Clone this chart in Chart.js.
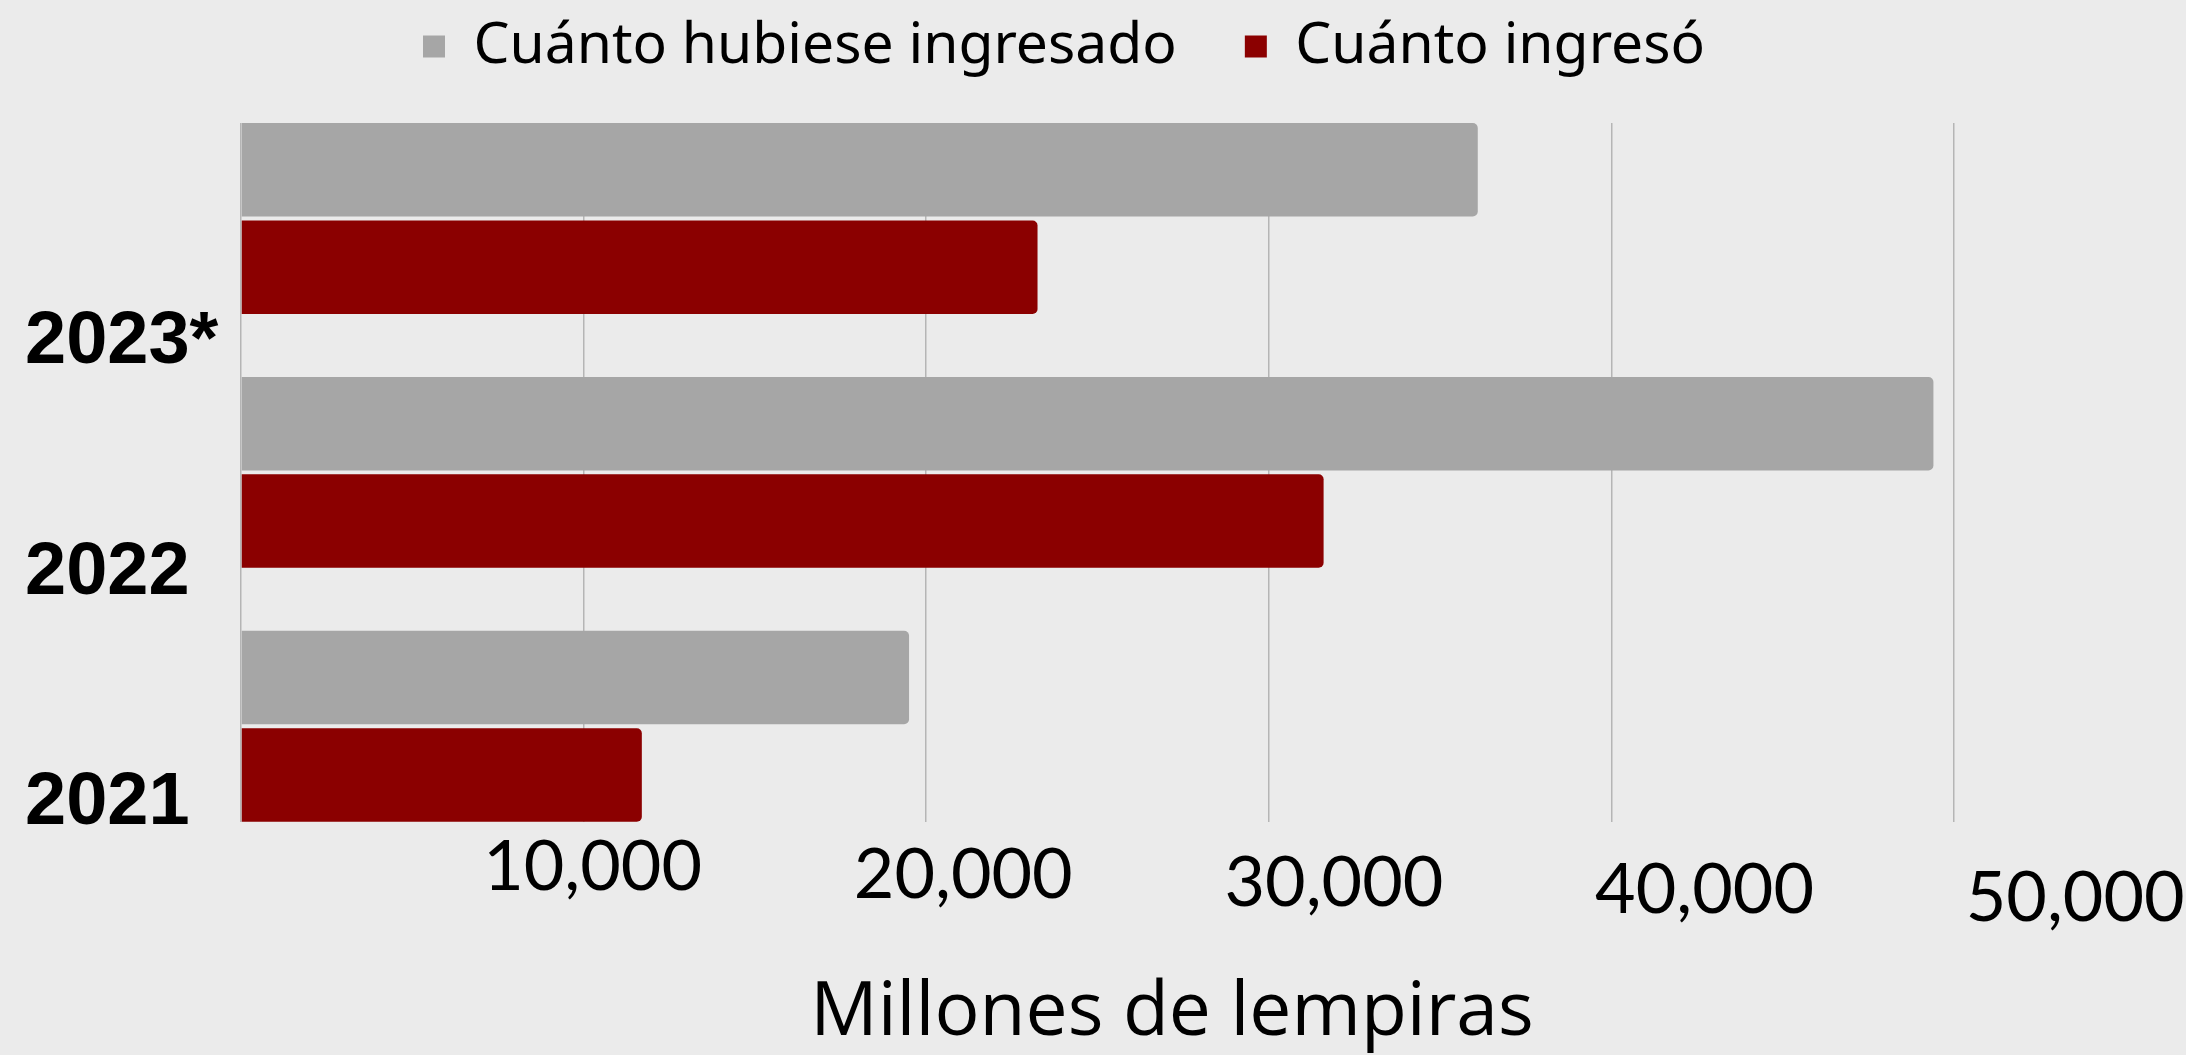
<!DOCTYPE html>
<html lang="es">
<head>
<meta charset="utf-8">
<title>Ingresos</title>
<script src="https://cdn.jsdelivr.net/npm/chart.js@4.4.1/dist/chart.umd.min.js"></script>
<style>
  html, body { margin: 0; padding: 0; background: #ebebeb; }
  #wrap { width: 2186px; height: 1055px; position: relative; }
</style>
</head>
<body>
<div id="wrap"><canvas id="barChart"></canvas></div>
<script>
// data (millones de lempiras)
const years = [2023, 2022, 2021];
const yearLabels = ['2023*', '2022', '2021'];
const hubieseIngresado = [36100, 49400, 19500];
const ingreso = [23250, 31600, 11700];
const gridValues = [0, 10000, 20000, 30000, 40000, 50000];
const xTickValues = [10000, 20000, 30000, 40000, 50000];
const xTickLabels = ['10,000', '20,000', '30,000', '40,000', '50,000'];

// pushes the plot area a bit further away from the legend
const legendMargin = {
  id: 'legendMargin',
  beforeInit(chart) {
    const origFit = chart.legend.fit;
    chart.legend.fit = function fit() {
      origFit.bind(chart.legend)();
      this.height += 38;
    };
  },
};

function createChart(ctx) {
  new Chart(ctx, {
    type: 'bar',
    data: {
      labels: years,
      datasets: [
        {
          label: 'Cuánto hubiese ingresado',
          data: hubieseIngresado,
          backgroundColor: '#a6a6a6',
          borderRadius: 5,
          categoryPercentage: 0.767,
          barPercentage: 0.96,
          xAxisID: 'x',
          yAxisID: 'y',
        },
        {
          label: 'Cuánto ingresó',
          data: ingreso,
          backgroundColor: '#8b0000',
          borderRadius: 5,
          categoryPercentage: 0.767,
          barPercentage: 0.96,
          xAxisID: 'x',
          yAxisID: 'y',
        },
      ],
    },
    options: {
      indexAxis: 'y',
      responsive: true,
      maintainAspectRatio: false,
      animation: false,
      layout: {
        padding: { top: -50, left: 25, right: 83, bottom: 2 },
      },
      scales: {
        x: {
          type: 'linear',
          min: 0,
          max: 54350,
          afterBuildTicks: (scale) => {
            scale.ticks = gridValues.map((v) => ({ value: v }));
          },
          grid: { color: '#b5b5b5', lineWidth: 1.5, drawTicks: false },
          border: { display: false },
          ticks: { display: false },
        },
        y: {
          type: 'linear',
          display: false,
          offset: false,
          min: 2020.623,
          max: 2023.376,
          afterBuildTicks: (scale) => {
            scale.ticks = years.map((v) => ({ value: v }));
          },
        },
        x2: {
          type: 'linear',
          position: 'bottom',
          min: 514,
          max: 50750,
          afterBuildTicks: (scale) => {
            scale.ticks = xTickValues.map((v) => ({ value: v }));
          },
          afterFit: (scale) => {
            scale.paddingLeft = 0;
            scale.paddingRight = 0;
          },
          grid: { display: false, drawTicks: false },
          border: { display: false },
          ticks: {
            color: '#000',
            padding: 10.5,
            autoSkip: false,
            maxRotation: 0,
            font: (c) => ({
              family: 'Lato',
              size: 70,
              lineHeight: 70 + 15.5 * c.index + 'px',
            }),
            callback: (value, index) => xTickLabels[index],
          },
          title: {
            display: true,
            text: 'Millones de lempiras',
            color: '#000',
            font: { family: 'Open Sans', size: 75, lineHeight: 1 },
            padding: { top: 1, bottom: 2 },
          },
        },
        y2: {
          type: 'linear',
          position: 'left',
          offset: false,
          min: 2020.92,
          max: 2023.953,
          afterBuildTicks: (scale) => {
            scale.ticks = years.map((v) => ({ value: v }));
          },
          afterFit: (scale) => {
            scale.width = 216;
          },
          grid: { display: false, drawTicks: false },
          border: { display: false },
          ticks: {
            crossAlign: 'far',
            color: '#000',
            autoSkip: false,
            font: { family: 'Liberation Sans', size: 74, weight: 'bold' },
            callback: (value) => yearLabels[years.indexOf(value)],
          },
        },
      },
      plugins: {
        legend: {
          position: 'top',
          labels: {
            color: '#000',
            font: { family: 'Noto Sans', size: 57 },
            boxWidth: 22,
            boxHeight: 22,
            padding: 68,
          },
        },
        tooltip: { enabled: false },
      },
    },
    plugins: [legendMargin],
  });
}

document.addEventListener('DOMContentLoaded', () => {
  createChart(document.getElementById('barChart').getContext('2d'));
});
</script>
</body>
</html>
